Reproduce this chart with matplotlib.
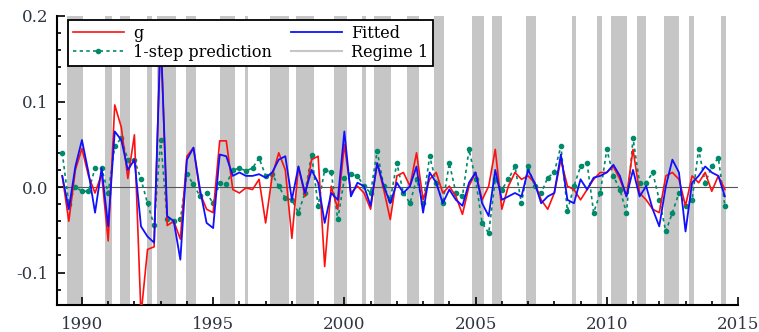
import numpy as np
import matplotlib
matplotlib.use("Agg")
import matplotlib.pyplot as plt
from matplotlib.lines import Line2D
from matplotlib.ticker import MultipleLocator

plt.rcParams['font.family'] = ['DejaVu Serif']

start_year = 1989.25
g = [0.013, -0.040, 0.020, 0.045, 0.013, -0.007, 0.015, -0.063, 0.096, 0.070,
     0.010, 0.061, -0.150, -0.073, -0.070, 0.184, -0.045, -0.040, -0.061, 0.036,
     0.046, -0.007, -0.026, -0.030, 0.054, 0.054, -0.003, -0.007, -0.001, -0.003,
     0.009, -0.042, 0.013, 0.040, 0.020, -0.060, 0.024, -0.011, 0.032, 0.036,
     -0.093, 0.001, -0.026, 0.050, -0.007, 0.001, -0.007, -0.026, 0.028, -0.003,
     -0.038, 0.013, 0.017, 0.001, 0.040, -0.015, 0.009, 0.017, -0.007, 0.001,
     -0.011, -0.032, 0.001, 0.017, -0.015, 0.001, 0.044, -0.026, 0.001, 0.017,
     0.009, 0.013, 0.005, -0.015, -0.026, -0.007, 0.032, 0.001, -0.003, -0.015,
     -0.003, 0.009, 0.017, 0.017, 0.024, 0.009, -0.011, 0.044, -0.007, -0.015,
     -0.026, -0.030, 0.013, 0.017, 0.009, -0.022, 0.013, 0.005, 0.017, -0.005,
     0.013, -0.003]
fitted = [0.013, -0.026, 0.024, 0.055, 0.017, -0.030, 0.022, -0.046, 0.065, 0.055,
          0.020, 0.032, -0.046, -0.058, -0.065, 0.180, -0.034, -0.040, -0.085, 0.032,
          0.046, -0.003, -0.042, -0.048, 0.038, 0.036, 0.013, 0.017, 0.013, 0.013,
          0.015, 0.011, 0.017, 0.032, 0.036, -0.015, 0.024, -0.007, 0.020, 0.005,
          -0.042, -0.007, -0.015, 0.065, -0.011, 0.005, 0.001, -0.022, 0.028, 0.001,
          -0.019, 0.005, -0.007, 0.001, 0.024, -0.030, 0.017, 0.005, -0.019, -0.003,
          -0.015, -0.022, 0.005, 0.017, -0.019, -0.034, 0.020, -0.015, -0.011, -0.007,
          -0.011, 0.020, 0.005, -0.019, -0.011, -0.007, 0.038, -0.015, -0.019, 0.009,
          -0.003, 0.011, 0.013, 0.017, 0.026, 0.013, -0.011, 0.020, -0.011, 0.001,
          -0.026, -0.046, 0.001, 0.032, 0.017, -0.052, 0.005, 0.013, 0.024, 0.017,
          0.013, -0.011]
prediction = [0.040, -0.020, 0.000, -0.005, -0.005, 0.022, 0.022, -0.007, 0.048, 0.057,
              0.032, 0.032, 0.009, -0.019, -0.045, 0.055, -0.038, -0.040, -0.038, 0.015,
              0.003, -0.011, -0.007, -0.019, 0.005, 0.003, 0.020, 0.022, 0.019, 0.022,
              0.034, 0.013, 0.015, 0.001, -0.013, -0.015, -0.030, -0.007, 0.038, -0.022,
              0.020, 0.017, -0.038, 0.010, 0.015, 0.013, 0.001, -0.007, 0.042, 0.001,
              -0.015, 0.028, -0.007, -0.019, 0.009, -0.019, 0.036, 0.005, -0.019, 0.028,
              -0.007, -0.011, 0.044, 0.009, -0.042, -0.054, 0.009, -0.003, 0.009, 0.024,
              -0.019, 0.024, 0.001, -0.007, 0.011, 0.017, 0.048, -0.028, 0.001, 0.024,
              0.028, -0.030, -0.007, 0.044, 0.013, -0.003, -0.030, 0.057, 0.005, 0.005,
              0.017, -0.015, -0.052, -0.030, -0.007, -0.022, -0.015, 0.044, 0.005, 0.024,
              0.034, -0.022]

regime_starts = [1989.42, 1990.87, 1991.44, 1992.47, 1992.87, 1993.98, 1995.25, 1996.20,
                 1997.15, 1998.17, 1999.62, 2000.68, 2001.14, 2002.40, 2003.42, 2004.87,
                 2005.63, 2006.92, 2008.67, 2009.62, 2010.15, 2011.14, 2012.17, 2013.12,
                 2014.37]
regime_ends = [1990.05, 1991.14, 1991.83, 1992.66, 1993.60, 1994.36, 1995.82, 1996.32,
               1997.90, 1998.86, 2000.10, 2000.84, 2001.79, 2002.85, 2003.80, 2005.32,
               2006.00, 2007.30, 2008.82, 2009.80, 2010.76, 2011.48, 2012.74, 2013.31,
               2014.56]

t = start_year + 0.25 * np.arange(len(g))

fig = plt.figure(figsize=(7.59, 3.32), dpi=100)
ax = fig.add_axes([57/759, 27/332, 681/759, 289/332])

grey = '#c6c6c6'
for s, e in zip(regime_starts, regime_ends):
    ax.axvspan(s, e, color=grey, lw=0, zorder=0)

ax.axhline(0, color='#555555', lw=0.8, zorder=1)
ax.plot(t, g, color='#ff1010', lw=1.2, zorder=3)
ax.plot(t, fitted, color='#1010ff', lw=1.3, zorder=4)
ax.plot(t, prediction, color='#008a6a', lw=1.2, ls=(0, (2, 2)), marker='o',
        ms=3, zorder=2)

ax.set_xlim(1989.05, 2015.0)
ax.set_ylim(-0.138, 0.2)

for side in ['top', 'right']:
    ax.spines[side].set_visible(False)
for side in ['left', 'bottom']:
    ax.spines[side].set_linewidth(1.5)

ax.xaxis.set_major_locator(MultipleLocator(5))
ax.xaxis.set_minor_locator(MultipleLocator(1))
ax.yaxis.set_major_locator(MultipleLocator(0.1))
ax.yaxis.set_minor_locator(MultipleLocator(0.02))
ax.tick_params(which='both', direction='in', width=1.2, colors='black',
               labelcolor='#2f3640', labelsize=12)
ax.tick_params(which='major', length=6)
ax.tick_params(which='minor', length=3)
ax.tick_params(axis='y', pad=6)
ax.tick_params(axis='x', pad=8)
ax.yaxis.set_major_formatter(matplotlib.ticker.FormatStrFormatter('%.1f'))

handles = [Line2D([], [], color='#ff1010', lw=1.2),
           Line2D([], [], color='#008a6a', lw=1.2, ls=(0, (2, 2)), marker='o', ms=3),
           Line2D([], [], color='#1010ff', lw=1.3),
           Line2D([], [], color=grey, lw=1.5)]
labels = ['g', '1-step prediction', 'Fitted', 'Regime 1']
leg = ax.legend(handles, labels, ncol=2, loc='upper left',
                bbox_to_anchor=(0.016, 0.986), fontsize=11.5, frameon=True,
                fancybox=False, edgecolor='black', framealpha=1,
                handlelength=3.2, handletextpad=0.6, columnspacing=1.15,
                borderpad=0.3, labelspacing=0.12, borderaxespad=0)
leg.get_frame().set_linewidth(1.3)

fig.savefig('out.png', dpi=100)
